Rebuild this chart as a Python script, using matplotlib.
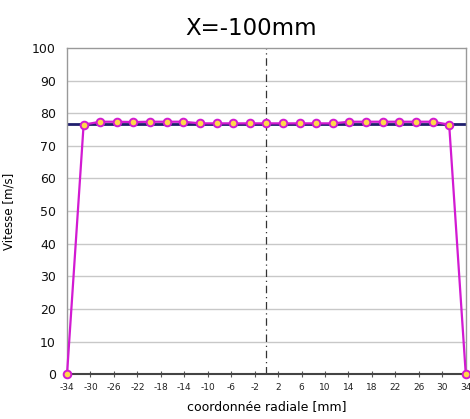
import matplotlib.pyplot as plt

# radial positions [mm] and measured velocity [m/s]
radius = [-34, -31.17, -28.33, -25.5, -22.67, -19.83, -17, -14.17, -11.33, -8.5,
          -5.67, -2.83, 0, 2.83, 5.67, 8.5, 11.33, 14.17, 17, 19.83,
          22.67, 25.5, 28.33, 31.17, 34]
vitesse = [0, 76.5, 77.4, 77.4, 77.3, 77.4, 77.4, 77.4, 76.9, 76.9,
           76.9, 76.9, 76.9, 76.9, 76.9, 76.9, 76.9, 77.4, 77.4, 77.4,
           77.4, 77.4, 77.4, 76.5, 0]

# mean velocity line
v_mean = 76.8

xticks = [-34, -30, -26, -22, -18, -14, -10, -6, -2, 2, 6, 10, 14, 18, 22, 26, 30, 34]
yticks = [0, 10, 20, 30, 40, 50, 60, 70, 80, 90, 100]

fig = plt.figure(figsize=(4.7, 4.19), dpi=100)
ax = fig.add_axes([0.1426, 0.107, 0.8484, 0.7784])

ax.set_xlim(-34, 34)
ax.set_ylim(0, 100)

# grid lines
for y in yticks[1:-1]:
    ax.axhline(y, color="#c8c8c8", lw=1, zorder=0)

ax.axvline(0, color="#333333", lw=0.9, ls=(0, (6, 3, 1, 3)), zorder=1)
ax.axhline(v_mean, color="#1f1f6e", lw=2, zorder=2)

ax.plot(radius, vitesse, color="#d21ad2", lw=1.6, marker="o", markersize=5.5,
        markerfacecolor="#ffd84a", markeredgecolor="#d21ad2", markeredgewidth=1.4,
        zorder=3, clip_on=False)

ax.set_xticks(xticks)
ax.set_xticklabels([str(t) for t in xticks], fontsize=6.5, color="#222222")
ax.set_yticks(yticks)
ax.set_yticklabels([str(t) for t in yticks], fontsize=9, color="#111111")
ax.tick_params(axis="x", direction="inout", length=5, width=0.8, color="#555555", pad=4)
ax.tick_params(axis="y", length=0, pad=8)

for side in ["top", "right", "left"]:
    ax.spines[side].set_color("#999999")
    ax.spines[side].set_linewidth(1)
ax.spines["bottom"].set_color("#444444")
ax.spines["bottom"].set_linewidth(1.5)

ax.set_xlabel("coordonnée radiale [mm]", fontsize=9, labelpad=6)
ax.set_ylabel("Vitesse [m/s]", fontsize=8.5, labelpad=12)

fig.text(0.534, 0.932, "X=-100mm", ha="center", va="center", fontsize=16.5)

fig.savefig("out.png", dpi=100)
